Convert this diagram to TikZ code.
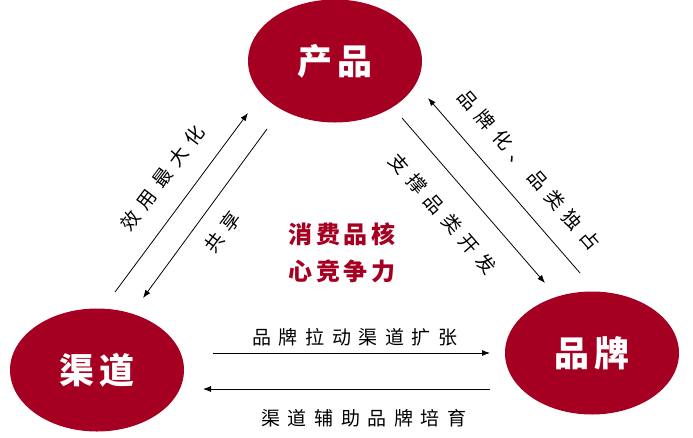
\documentclass[tikz,border=0pt]{standalone}
\usepackage{fontspec}
\setmainfont{Noto Sans CJK SC}
\newfontfamily\lblfont[LetterSpace=40]{Noto Sans CJK SC}
\newfontfamily\hubfont[LetterSpace=15]{Noto Sans CJK SC}
\definecolor{brandred}{RGB}{165,0,33}
\usetikzlibrary{arrows.meta, shapes.geometric, positioning}

\begin{document}
\begin{tikzpicture}[x=1pt, y=-1pt,
          hub/.style={
              ellipse,
              fill=brandred,
              minimum width=174pt,
              minimum height=123pt,
              inner sep=0pt,
              text=white,
              font=\hubfont\fontsize{35}{35}\selectfont\bfseries
            },
          lbl/.style={font=\lblfont\fontsize{19}{19}\selectfont, inner sep=0pt},
          core/.style={font=\hubfont\fontsize{24}{37}\selectfont\bfseries, text=brandred, align=center},
          arr/.style={-{Latex[length=8pt, width=6pt]}, line width=0.8pt}
        ]
        \useasboundingbox (0,0) rectangle (693,437);

        \node[hub] (prod) at (335,61) {产品};
        \node[hub] (chan) at (97,370) {渠道};
        \node[hub] (brand) at (592,353) {品牌};

        \node[core] (center) at (342,253) {消费品核\\心竞争力};

        % left pair
        \coordinate (l1s) at (115,292);
        \coordinate (l1e) at (248,113);
        \coordinate (l2s) at (267,129);
        \coordinate (l2e) at (143,298);
        \draw[arr] (l1s) -- (l1e);
        \draw[arr] (l2s) -- (l2e);
        \node[lbl, rotate=53] (util) at (162,178) {效用最大化};
        \node[lbl, rotate=53] (share) at (222,232) {共享};

        % right pair
        \coordinate (r1s) at (580,273);
        \coordinate (r1e) at (428,98);
        \coordinate (r2s) at (402,118);
        \coordinate (r2e) at (545,283);
        \draw[arr] (r1s) -- (r1e);
        \draw[arr] (r2s) -- (r2e);
        \node[lbl, rotate=-49] (mono) at (529,170) {品牌化、品类独占};
        \node[lbl, rotate=-49] (dev) at (443,214) {支撑品类开发};

        % bottom pair
        \coordinate (b1s) at (213,353);
        \coordinate (b1e) at (490,353);
        \coordinate (b2s) at (490,389);
        \coordinate (b2e) at (203,389);
        \draw[arr] (b1s) -- (b1e);
        \draw[arr] (b2s) -- (b2e);
        \node[lbl] (pull) at (355,337) {品牌拉动渠道扩张};
        \node[lbl] (grow) at (364,418) {渠道辅助品牌培育};
      \end{tikzpicture}
\end{document}
